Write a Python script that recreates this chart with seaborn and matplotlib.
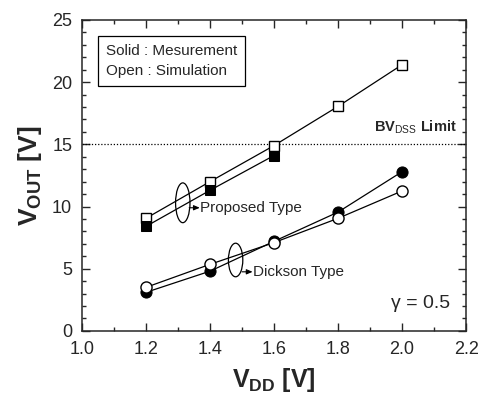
import numpy as np
import pandas as pd
import matplotlib.pyplot as plt
from matplotlib.patches import Ellipse
from matplotlib.ticker import MultipleLocator
import seaborn as sns

# values
vdd = [1.2, 1.4, 1.6, 1.8, 2.0]
vdd_meas_prop = [1.2, 1.4, 1.6]
prop_meas = [8.4, 11.3, 14.1]
prop_sim = [9.05, 12.0, 14.9, 18.05, 21.4]
dick_meas = [3.1, 4.8, 7.2, 9.55, 12.8]
dick_sim = [3.5, 5.35, 7.1, 9.05, 11.25]
bv_limit = 15.0

sns.set_style("ticks")
plt.rcParams["font.family"] = ["Liberation Sans", "DejaVu Sans"]
plt.rcParams["mathtext.fontset"] = "custom"
plt.rcParams["mathtext.rm"] = "Liberation Sans"
plt.rcParams["mathtext.bf"] = "Liberation Sans:bold"

fig = plt.figure(figsize=(4.82, 4.07), dpi=100)
ax = fig.add_axes([0.170, 0.187, 0.797, 0.764])

line_kw = dict(color="black", linewidth=0.9, legend=False)

sns.lineplot(x=vdd, y=prop_sim, marker="s", markersize=7, markerfacecolor="white",
             markeredgecolor="black", markeredgewidth=1, ax=ax, **line_kw)
sns.lineplot(x=vdd_meas_prop, y=prop_meas, marker="s", markersize=7, markerfacecolor="black",
             markeredgecolor="black", ax=ax, **line_kw)
sns.lineplot(x=vdd, y=dick_meas, marker="o", markersize=8, markerfacecolor="black",
             markeredgecolor="black", ax=ax, **line_kw)
sns.lineplot(x=vdd, y=dick_sim, marker="o", markersize=8, markerfacecolor="white",
             markeredgecolor="black", markeredgewidth=1, ax=ax, **line_kw)

ax.axhline(bv_limit, color="black", linestyle=(0, (1, 1.5)), linewidth=0.9, zorder=1)

ax.set_xlim(1.0, 2.2)
ax.set_ylim(0, 25)
ax.xaxis.set_major_locator(MultipleLocator(0.2))
ax.xaxis.set_minor_locator(MultipleLocator(0.1))
ax.yaxis.set_major_locator(MultipleLocator(5))
ax.yaxis.set_minor_locator(MultipleLocator(1))
ax.xaxis.set_major_formatter(plt.FormatStrFormatter("%.1f"))
ax.tick_params(which="both", direction="in", top=True, right=True, labelsize=13, width=1)
ax.tick_params(which="major", length=6, pad=7)
ax.tick_params(which="minor", length=3)
for s in ax.spines.values():
    s.set_linewidth(1.1)
    s.set_visible(True)

ax.set_xlabel(r"$\mathbf{V_{DD}}$ [V]", fontsize=18, fontweight="bold", labelpad=6)
ax.set_ylabel(r"$\mathbf{V_{OUT}}$ [V]", fontsize=19, fontweight="bold", labelpad=6)

# legend box
ax.text(1.075, 23.1, "Solid : Mesurement\nOpen : Simulation", fontsize=11, va="top", ha="left",
        linespacing=1.6,
        bbox=dict(boxstyle="square,pad=0.5", facecolor="white", edgecolor="black", linewidth=0.9))

ax.text(2.17, 15.7, r"BV$_{\mathrm{DSS}}$ Limit", fontsize=10.5, fontweight="bold", ha="right", va="bottom")
ax.text(2.15, 2.2, "γ = 0.5", fontsize=14, ha="right", va="center")

arrow_kw = dict(arrowstyle="-|>,head_length=0.35,head_width=0.15", color="black", lw=0.8,
                shrinkA=0, shrinkB=0)

# grouping ellipses with arrows to their labels
ax.add_patch(Ellipse((1.315, 10.3), 0.045, 3.2, fill=False, edgecolor="black", linewidth=0.9, zorder=5))
ax.annotate("", xy=(1.368, 9.9), xytext=(1.335, 9.9), arrowprops=arrow_kw)
ax.text(1.37, 9.9, "Proposed Type", fontsize=11, va="center", ha="left")

ax.add_patch(Ellipse((1.48, 5.7), 0.045, 2.7, fill=False, edgecolor="black", linewidth=0.9, zorder=5))
ax.annotate("", xy=(1.533, 4.75), xytext=(1.5, 4.75), arrowprops=arrow_kw)
ax.text(1.535, 4.75, "Dickson Type", fontsize=11, va="center", ha="left")

fig.savefig("out.png", dpi=100)
